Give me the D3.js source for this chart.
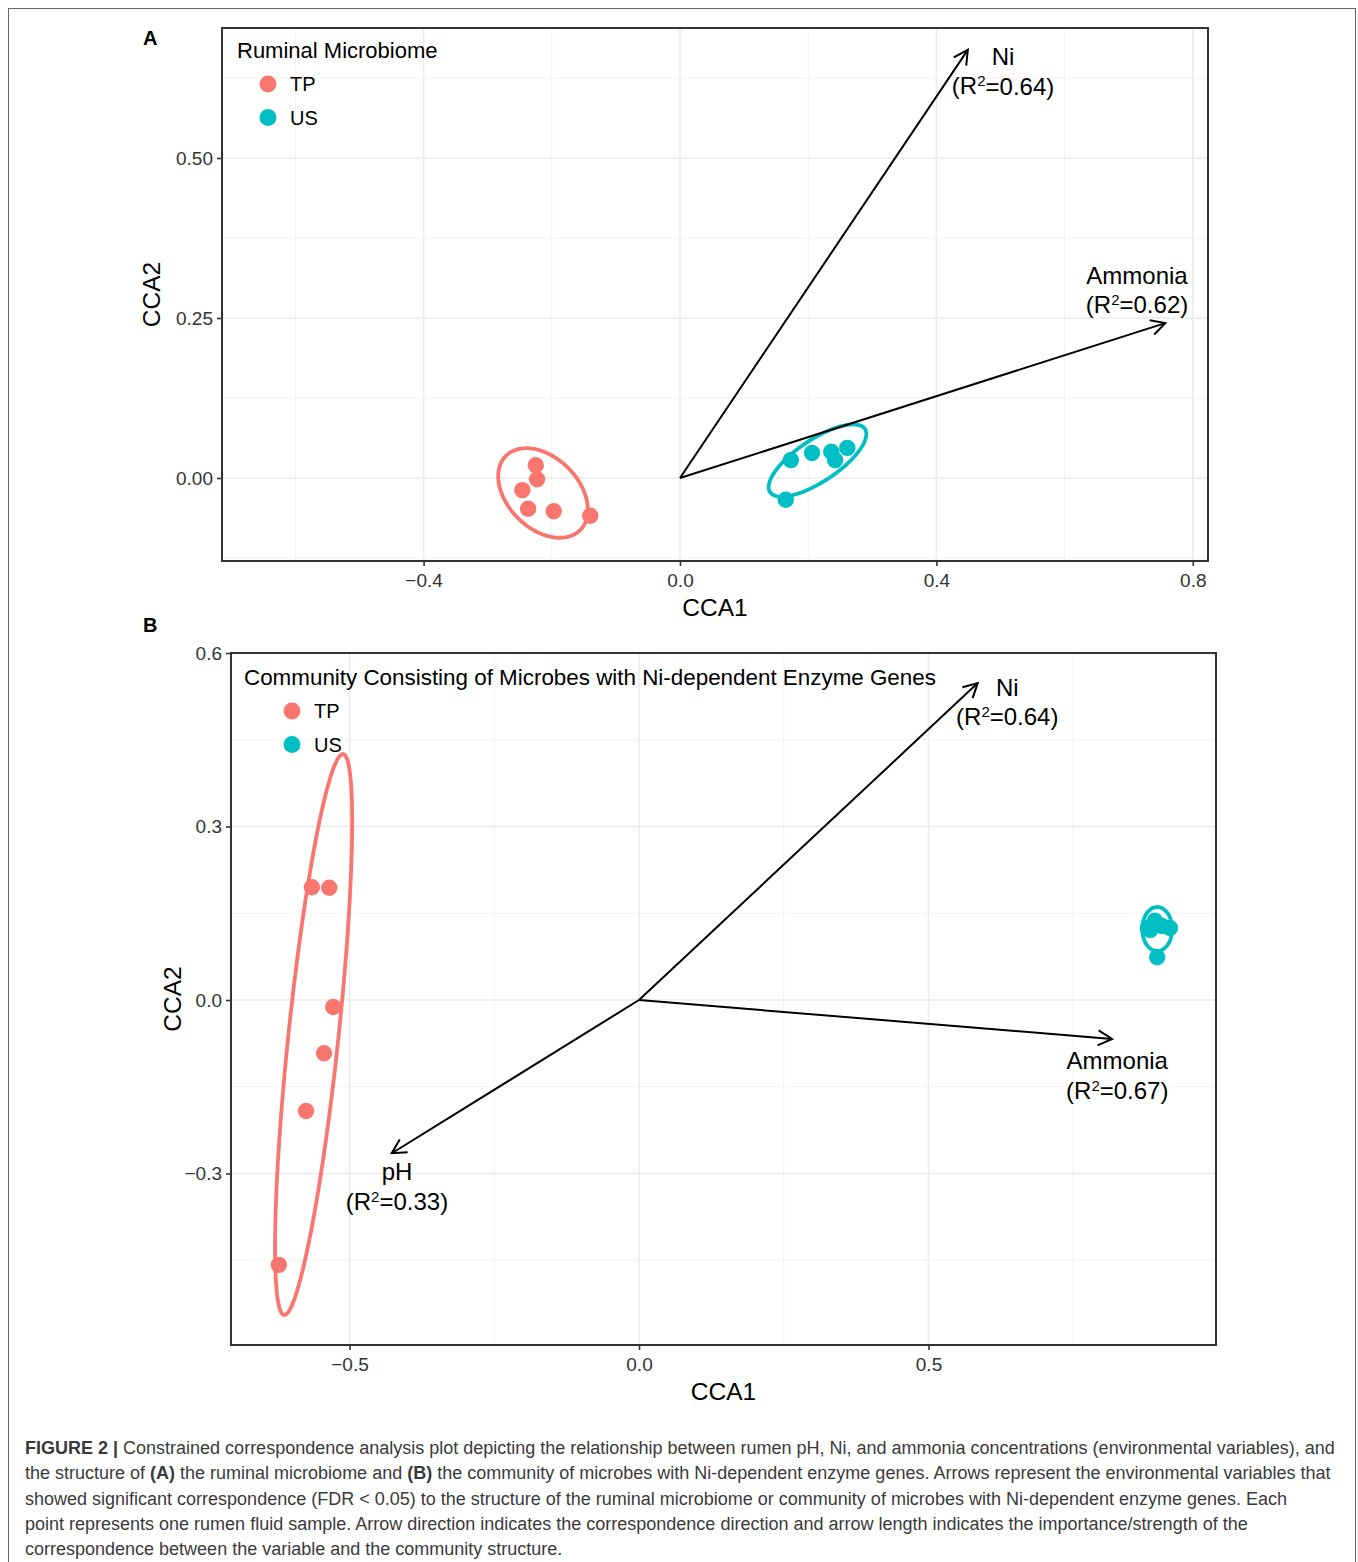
<!DOCTYPE html>
<html><head><meta charset="utf-8">
<script src="https://cdn.jsdelivr.net/npm/d3@7"></script>
<style>body{margin:0;background:#fff;}svg{display:block;font-family:"Liberation Sans",Arial,sans-serif;}</style>
</head><body>
<svg id="chart" width="1358" height="1562"></svg>
<script>
// ---------------- DATA ----------------
const groups = ["TP", "US"];

// Panel A: Ruminal Microbiome
const aTP = [[-0.225,0.020],[-0.223,-0.002],[-0.246,-0.019],[-0.237,-0.048],[-0.197,-0.052],[-0.140,-0.059]];
const aUS = [[0.173,0.028],[0.206,0.039],[0.236,0.041],[0.242,0.028],[0.261,0.047],[0.165,-0.034]];
// ellipse: centre, first semi-axis vector, second semi-axis vector (data units)
const aEllipses = [
  {group:"TP", c:[-0.2137,-0.0234], u:[0.0579,-0.0580], v:[0.0392,0.0392]},
  {group:"US", c:[0.2145,0.0273], u:[0.0740,0.0494], v:[0.0182,-0.0273]}
];
const aArrows = [
  {name:"Ni", r2:"0.64", end:[0.449,0.669], label:[0.504,0.659]},
  {name:"Ammonia", r2:"0.62", end:[0.757,0.242], label:[0.713,0.317]}
];
const aXTicks = [-0.4, 0.0, 0.4, 0.8];
const aXTickLabels = ["\u22120.4","0.0","0.4","0.8"];
const aXMinor = [-0.6,-0.2,0.2,0.6];
const aYTicks = [0.00, 0.25, 0.50];
const aYTickLabels = ["0.00","0.25","0.50"];
const aYMinor = [-0.125,0.125,0.375,0.625];

// Panel B: Community with Ni-dependent enzyme genes
const bTP = [[-0.565,0.195],[-0.535,0.194],[-0.528,-0.012],[-0.544,-0.092],[-0.575,-0.192],[-0.622,-0.458]];
const bUS = [[0.879,0.1245],[0.891,0.137],[0.903,0.128],[0.917,0.1245],[0.883,0.121],[0.895,0.074]];
const bEllipses = [
  {group:"TP", c:[-0.562,-0.0597], u:[0.0509,0.485], v:[0.0430,-0.0045]},
  {group:"US", c:[0.895,0.1228], u:[0.0,0.038], v:[0.0259,0.0]}
];
const bArrows = [
  {name:"Ni", r2:"0.64", end:[0.585,0.548], label:[0.636,0.541]},
  {name:"Ammonia", r2:"0.67", end:[0.817,-0.0674], label:[0.826,-0.105]},
  {name:"pH", r2:"0.33", end:[-0.427,-0.265], label:[-0.418,-0.297]}
];
const bXTicks = [-0.5, 0.0, 0.5];
const bXTickLabels = ["\u22120.5","0.0","0.5"];
const bXMinor = [-0.25,0.25,0.75];
const bYTicks = [-0.3, 0.0, 0.3, 0.6];
const bYTickLabels = ["\u22120.3","0.0","0.3","0.6"];
const bYMinor = [-0.45,-0.15,0.15,0.45];

const captionLines = [
  [["FIGURE 2 |",true],[" Constrained correspondence analysis plot depicting the relationship between rumen pH, Ni, and ammonia concentrations (environmental variables), and",false]],
  [["the structure of ",false],["(A)",true],[" the ruminal microbiome and ",false],["(B)",true],[" the community of microbes with Ni-dependent enzyme genes. Arrows represent the environmental variables that",false]],
  [["showed significant correspondence (FDR < 0.05) to the structure of the ruminal microbiome or community of microbes with Ni-dependent enzyme genes. Each",false]],
  [["point represents one rumen fluid sample. Arrow direction indicates the correspondence direction and arrow length indicates the importance/strength of the",false]],
  [["correspondence between the variable and the community structure.",false]]
];

// ---------------- DRAW ----------------
const color = d3.scaleOrdinal().domain(groups).range(["#F8766D","#00BFC4"]);
const svg = d3.select("#chart");

svg.append("rect").attr("x",8.5).attr("y",8.5).attr("width",1347).attr("height",1600)
  .attr("fill","none").attr("stroke","#666").attr("stroke-width",1);

svg.append("defs").append("marker")
  .attr("id","arrowhead").attr("viewBox","-16 -10 20 20")
  .attr("refX",0).attr("refY",0).attr("markerWidth",20).attr("markerHeight",20)
  .attr("markerUnits","userSpaceOnUse").attr("orient","auto")
  .append("path").attr("d","M-14,-7.5 L0,0 L-14,7.5").attr("fill","none")
  .attr("stroke","#000").attr("stroke-width",2).attr("stroke-linejoin","miter");

function panel(cfg){
  const x = d3.scaleLinear().domain(cfg.xDomain).range([cfg.left, cfg.right]);
  const y = d3.scaleLinear().domain(cfg.yDomain).range([cfg.bottom, cfg.top]);
  const g = svg.append("g");
  // grid
  g.selectAll(".xm").data(cfg.xMinor).join("line")
    .attr("x1",d=>x(d)).attr("x2",d=>x(d)).attr("y1",cfg.top).attr("y2",cfg.bottom)
    .attr("stroke","#F2F2F2").attr("stroke-width",1);
  g.selectAll(".ym").data(cfg.yMinor.filter(d=>y(d)>cfg.top&&y(d)<cfg.bottom)).join("line")
    .attr("y1",d=>y(d)).attr("y2",d=>y(d)).attr("x1",cfg.left).attr("x2",cfg.right)
    .attr("stroke","#F2F2F2").attr("stroke-width",1);
  g.selectAll(".xg").data(cfg.xTicks).join("line")
    .attr("x1",d=>x(d)).attr("x2",d=>x(d)).attr("y1",cfg.top).attr("y2",cfg.bottom)
    .attr("stroke","#EBEBEB").attr("stroke-width",1.6);
  g.selectAll(".yg").data(cfg.yTicks).join("line")
    .attr("y1",d=>y(d)).attr("y2",d=>y(d)).attr("x1",cfg.left).attr("x2",cfg.right)
    .attr("stroke","#EBEBEB").attr("stroke-width",1.6);

  // axes
  const xAxis = d3.axisBottom(x).tickValues(cfg.xTicks).tickSize(5).tickPadding(8)
    .tickFormat((d,i)=>cfg.xLabels[i]);
  const gx = g.append("g").attr("transform",`translate(0,${cfg.bottom})`).call(xAxis);
  const yAxis = d3.axisLeft(y).tickValues(cfg.yTicks).tickSize(5).tickPadding(4)
    .tickFormat((d,i)=>cfg.yLabels[i]);
  const gy = g.append("g").attr("transform",`translate(${cfg.left},0)`).call(yAxis);
  [gx,gy].forEach(a=>{
    a.select(".domain").remove();
    a.selectAll(".tick line").attr("stroke","#333").attr("stroke-width",1.6);
    a.selectAll(".tick text").attr("fill","#333").style("font-size","19px")
      .style("font-family","Liberation Sans, Arial, sans-serif");
  });

  // axis titles
  g.append("text").attr("x",(cfg.left+cfg.right)/2).attr("y",cfg.bottom+55)
    .attr("text-anchor","middle").style("font-size","24.5px").text("CCA1");
  g.append("text").attr("transform",`translate(${cfg.yTitleX},${(cfg.top+cfg.bottom)/2}) rotate(-90)`)
    .attr("text-anchor","middle").style("font-size","24.5px").text("CCA2");

  // panel tag
  g.append("text").attr("x",cfg.tagX).attr("y",cfg.tagY).style("font-size","20px")
    .style("font-weight","bold").text(cfg.tag);

  // ellipses
  const line = d3.line().x(d=>x(d[0])).y(d=>y(d[1]));
  const ts = d3.range(0,361,3).map(t=>t*Math.PI/180);
  g.selectAll(".ell").data(cfg.ellipses).join("path")
    .attr("d",e=>line(ts.map(t=>[e.c[0]+e.u[0]*Math.cos(t)+e.v[0]*Math.sin(t),
                                 e.c[1]+e.u[1]*Math.cos(t)+e.v[1]*Math.sin(t)])) + "Z")
    .attr("fill","none").attr("stroke",e=>color(e.group)).attr("stroke-width",3.8);

  // points
  const pts = [].concat(cfg.tp.map(p=>({g:"TP",p})), cfg.us.map(p=>({g:"US",p})));
  g.selectAll(".pt").data(pts).join("circle")
    .attr("cx",d=>x(d.p[0])).attr("cy",d=>y(d.p[1])).attr("r",8.2)
    .attr("fill",d=>color(d.g));

  // arrows
  g.selectAll(".arr").data(cfg.arrows).join("line")
    .attr("x1",x(0)).attr("y1",y(0)).attr("x2",d=>x(d.end[0])).attr("y2",d=>y(d.end[1]))
    .attr("stroke","#000").attr("stroke-width",2).attr("marker-end","url(#arrowhead)");
  const lab = g.selectAll(".lab").data(cfg.arrows).join("text")
    .attr("text-anchor","middle").style("font-size","24px").attr("fill","#000");
  lab.append("tspan").attr("x",d=>x(d.label[0])).attr("y",d=>y(d.label[1])).attr("dy","0.36em").text(d=>d.name);
  const l2 = lab.append("tspan").attr("x",d=>x(d.label[0])).attr("y",d=>y(d.label[1])+29.5).attr("dy","0.36em");
  l2.append("tspan").text("(R");
  l2.append("tspan").style("font-size","15px").attr("dy","-0.55em").text("2");
  l2.append("tspan").attr("dy","0.35em").text(d=>`=${d.r2})`);

  // border
  g.append("rect").attr("x",cfg.left).attr("y",cfg.top).attr("width",cfg.right-cfg.left)
    .attr("height",cfg.bottom-cfg.top).attr("fill","none").attr("stroke","#333").attr("stroke-width",2);

  // legend
  const lg = g.append("g");
  lg.append("text").attr("x",cfg.legX).attr("y",cfg.legY).attr("dy","0.36em")
    .style("font-size",cfg.legFont).text(cfg.legTitle);
  groups.forEach((k,i)=>{
    lg.append("circle").attr("cx",cfg.keyX).attr("cy",cfg.legY+34+i*33.5).attr("r",8.5).attr("fill",color(k));
    lg.append("text").attr("x",cfg.keyX+22).attr("y",cfg.legY+34+i*33.5).attr("dy","0.36em")
      .style("font-size","20px").text(k);
  });
}

panel({tag:"A", tagX:143, tagY:45,
  left:222, right:1208, top:28, bottom:561,
  xDomain:[(222-680)/641,(1208-680)/641], yDomain:[-(561-478)/640,(478-28)/640],
  xTicks:aXTicks, xLabels:aXTickLabels, xMinor:aXMinor,
  yTicks:aYTicks, yLabels:aYTickLabels, yMinor:aYMinor,
  tp:aTP, us:aUS, ellipses:aEllipses, arrows:aArrows, yTitleX:160,
  legX:237, legY:50, keyX:268, legFont:"22px", legTitle:"Ruminal Microbiome"});

panel({tag:"B", tagX:143, tagY:632,
  left:231, right:1216, top:653, bottom:1345,
  xDomain:[(231-639)/579,(1216-639)/579], yDomain:[-(1345-1000)/578.3,(1000-653)/578.3],
  xTicks:bXTicks, xLabels:bXTickLabels, xMinor:bXMinor,
  yTicks:bYTicks, yLabels:bYTickLabels, yMinor:bYMinor,
  tp:bTP, us:bUS, ellipses:bEllipses, arrows:bArrows, yTitleX:181,
  legX:244, legY:677, keyX:292, legFont:"22.4px", legTitle:"Community Consisting of Microbes with Ni-dependent Enzyme Genes"});

// caption
const cap = svg.append("g");
captionLines.forEach((ln,i)=>{
  const t = cap.append("text").attr("x",25).attr("y",1454+i*25.3)
    .style("font-size","18px").attr("fill","#3a3a3a");
  ln.forEach(([s,b])=>t.append("tspan").style("font-weight",b?"bold":"normal").text(s));
});
</script>
</body></html>
